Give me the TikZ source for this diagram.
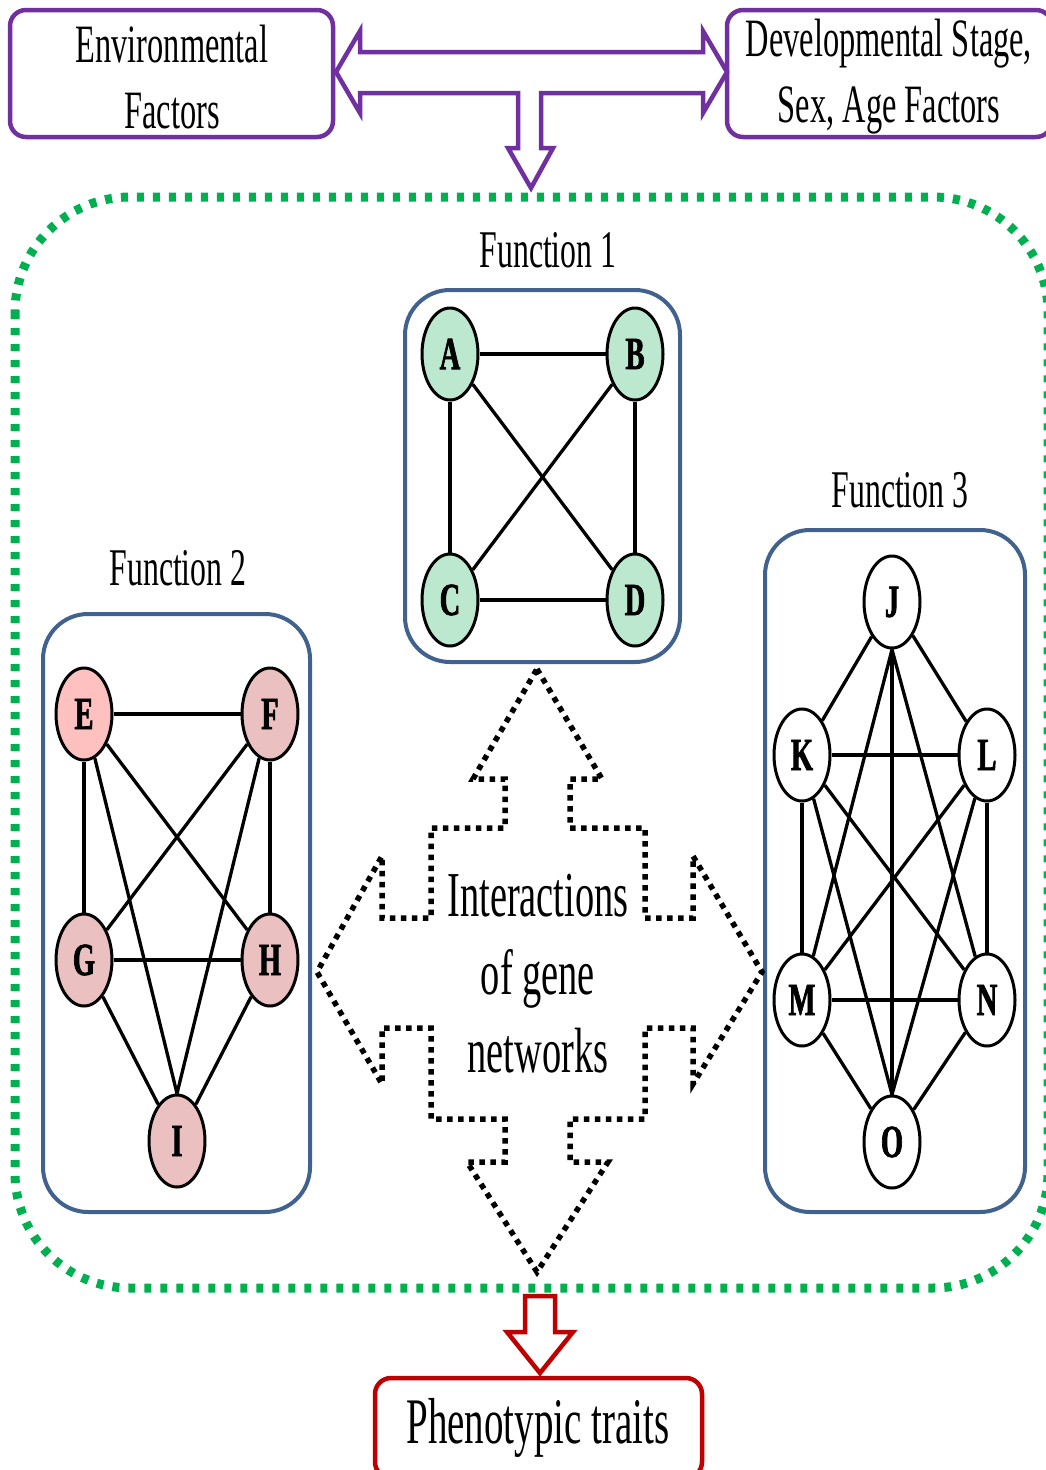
\documentclass[tikz,border=0pt]{standalone}
\usepackage{fontspec}
\setmainfont{Liberation Serif}[FakeStretch=0.6, BoldFont={Liberation Serif Bold}, BoldFeatures={FakeStretch=0.6}]
\newfontfamily\nodefont{Liberation Serif Bold}[FakeStretch=0.62, FakeBold=1.5]
\usetikzlibrary{shapes.geometric}
\definecolor{purp}{HTML}{7030A0}
\definecolor{boxblue}{HTML}{41618E}
\definecolor{dgreen}{HTML}{00B050}
\definecolor{dred}{HTML}{C00000}
\definecolor{ngreen}{HTML}{BDE8D0}
\definecolor{npinkA}{HTML}{FFC0C0}
\definecolor{npink}{HTML}{EAC0C0}
\tikzset{
  fbox/.style={draw=boxblue, line width=4pt, rounded corners=45pt},
  gnode/.style={ellipse, draw=black, line width=3pt, minimum width=56pt, minimum height=92pt, inner sep=0pt, font=\nodefont\fontsize{46}{46}\selectfont},
  gedge/.style={line width=3.3pt},
  flabel/.style={font=\fontsize{53}{53}\selectfont},
  topbox/.style={draw=purp, line width=4.5pt, rounded corners=16pt, fill=white},
  dotarrow/.style={line width=5.5pt, dash pattern=on 5.5pt off 5.5pt, line join=miter},
}
\begin{document}
\begin{tikzpicture}[x=1pt,y=-1pt]
\useasboundingbox (0,0) rectangle (1046,1470);
\fill[white] (0,0) rectangle (1046,1470);

% top boxes
\draw[topbox] (10,10) rectangle (333,137);
\node[font=\fontsize{54}{66}\selectfont, align=center] (env) at (172,77) {Environmental\\Factors};
\draw[topbox] (727,10) rectangle (1052,137);
\node[font=\fontsize{54}{66}\selectfont, align=center] (dev) at (889,77) {Developmental Stage,\\Sex, Age Factors};

% purple T arrow
\draw[purp, line width=4.5pt, fill=white, line join=miter]
  (336,72) -- (360,31) -- (360,52) -- (703,52) -- (703,31) -- (727,72)
  -- (703,113) -- (703,93) -- (541,93) -- (541,148) -- (553,148) -- (531,188)
  -- (508,148) -- (518,148) -- (518,93) -- (360,93) -- (360,113) -- cycle;

% green dotted container
\draw[dgreen, line width=9pt, dash pattern=on 7pt off 9pt, rounded corners=115pt]
  (15,197) rectangle (1048,1288);

% Function 1
\node[flabel] (f1) at (548,250) {Function 1};
\draw[fbox] (405,290) rectangle (680,662);
\node[gnode, fill=ngreen] (A) at (450,354) {A};
\node[gnode, fill=ngreen] (B) at (635,354) {B};
\node[gnode, fill=ngreen] (C) at (450,600) {C};
\node[gnode, fill=ngreen] (D) at (635,600) {D};
\draw[gedge] (A) -- (B); \draw[gedge] (A) -- (C); \draw[gedge] (A) -- (D);
\draw[gedge] (B) -- (C); \draw[gedge] (B) -- (D); \draw[gedge] (C) -- (D);

% Function 2
\node[flabel] (f2) at (178,568) {Function 2};
\draw[fbox] (43,614) rectangle (310,1212);
\node[gnode, fill=npinkA] (E) at (84,714) {E};
\node[gnode, fill=npink] (F) at (270,714) {F};
\node[gnode, fill=npink] (G) at (84,960) {G};
\node[gnode, fill=npink] (H) at (270,960) {H};
\node[gnode, fill=npink] (I) at (177,1141) {I};
\draw[gedge] (E) -- (F); \draw[gedge] (E) -- (G); \draw[gedge] (E) -- (H);
\draw[gedge] (E) -- (I.north); \draw[gedge] (F) -- (G); \draw[gedge] (F) -- (H);
\draw[gedge] (F) -- (I.north); \draw[gedge] (G) -- (H); \draw[gedge] (G) -- (I);
\draw[gedge] (H) -- (I);

% Function 3
\node[flabel] (f3) at (900,490) {Function 3};
\draw[fbox] (765,530) rectangle (1025,1212);
\node[gnode, fill=white] (J) at (892,602) {J};
\node[gnode, fill=white] (K) at (802,755) {K};
\node[gnode, fill=white] (L) at (987,755) {L};
\node[gnode, fill=white] (M) at (802,1000) {M};
\node[gnode, fill=white] (N) at (987,1000) {N};
\node[gnode, fill=white] (O) at (892,1142) {O};
\draw[gedge] (J) -- (K); \draw[gedge] (J) -- (L);
\draw[gedge] (J.south) -- (M); \draw[gedge] (J.south) -- (N); \draw[gedge] (J) -- (O);
\draw[gedge] (K) -- (L); \draw[gedge] (K) -- (M); \draw[gedge] (K) -- (N);
\draw[gedge] (K) -- (O.north); \draw[gedge] (L) -- (M); \draw[gedge] (L) -- (N);
\draw[gedge] (L) -- (O.north); \draw[gedge] (M) -- (N); \draw[gedge] (M) -- (O);
\draw[gedge] (N) -- (O);

% central dotted four-way arrow
\draw[dotarrow]
  (537,669) -- (602,779) -- (570,779) -- (570,828) -- (645,828) -- (645,918)
  -- (693,918) -- (693,856) -- (762,972) -- (693,1084) -- (693,1028) -- (645,1028)
  -- (645,1119) -- (570,1119) -- (570,1162) -- (608,1162) -- (537,1272)
  -- (467,1162) -- (505,1162) -- (505,1119) -- (431,1119) -- (431,1028)
  -- (382,1028) -- (382,1084) -- (317,972) -- (382,856) -- (382,918)
  -- (431,918) -- (431,828) -- (505,828) -- (505,779) -- (473,779) -- cycle;
\node[font=\fontsize{64}{78}\selectfont, align=center] (inter) at (538,974) {Interactions\\of gene\\networks};

% red arrow and phenotypic box
\draw[dred, line width=4.5pt, fill=white, line join=miter]
  (525,1296) -- (555,1296) -- (555,1332) -- (573,1332) -- (540,1373)
  -- (507,1332) -- (525,1332) -- cycle;
\draw[draw=dred, line width=4.5pt, rounded corners=16pt] (375,1378) rectangle (702,1478);
\node[font=\fontsize{65}{65}\selectfont] (pheno) at (538,1428) {Phenotypic traits};
\end{tikzpicture}
\end{document}
